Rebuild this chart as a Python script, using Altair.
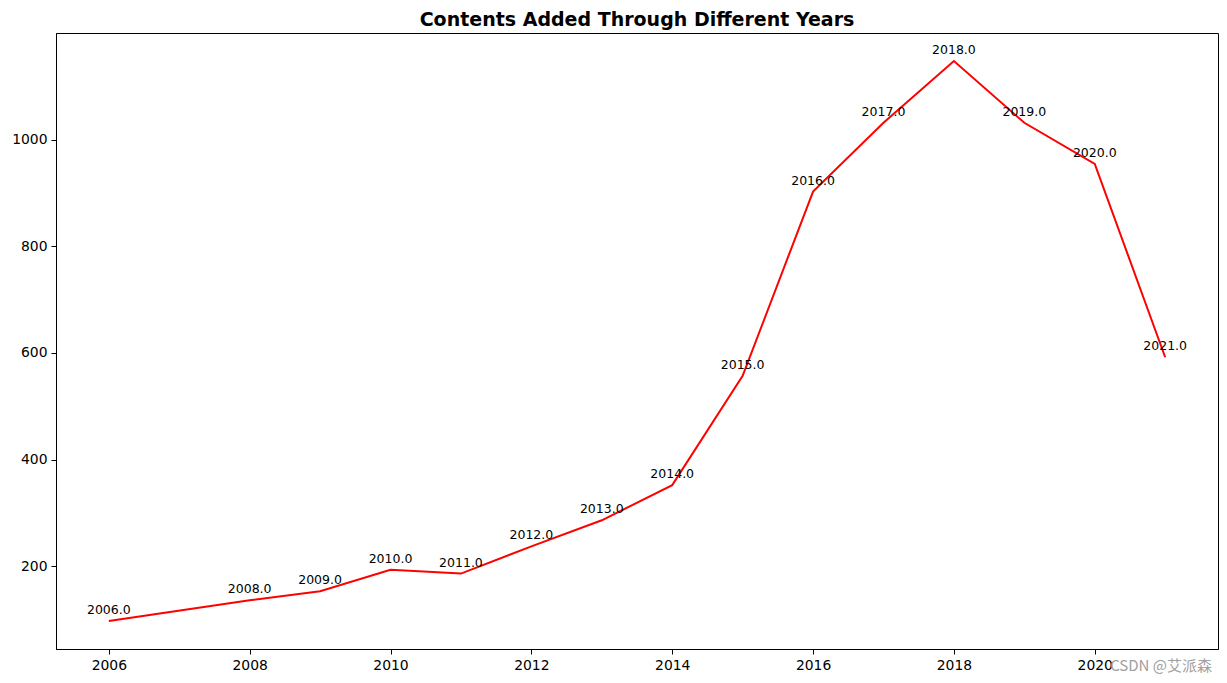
import altair as alt
import pandas as pd

years = [2006, 2008, 2009, 2010, 2011, 2012, 2013, 2014, 2015, 2016, 2017, 2018, 2019, 2020, 2021]
counts = [97, 136, 153, 193, 186, 237, 286, 352, 557, 903, 1032, 1148, 1032, 955, 592]
labels = [f"{float(y):.1f}" for y in years]

x_ticks = [2006, 2008, 2010, 2012, 2014, 2016, 2018, 2020]
y_ticks = [200, 400, 600, 800, 1000]

df = pd.DataFrame({"year": years, "count": counts, "label": labels})

rng = max(counts) - min(counts)
y_dom = [min(counts) - 0.05 * rng, max(counts) + 0.05 * rng]
xr = max(years) - min(years)
x_dom = [min(years) - 0.05 * xr, max(years) + 0.05 * xr]

FONT = "DejaVu Sans"

x_enc = alt.X("year:Q", scale=alt.Scale(domain=x_dom, nice=False, zero=False),
              axis=alt.Axis(values=x_ticks, format="d", title=None))
y_enc = alt.Y("count:Q", scale=alt.Scale(domain=y_dom, nice=False, zero=False),
              axis=alt.Axis(values=y_ticks, format="d", title=None))

line = alt.Chart(df).mark_line(color="red", strokeWidth=2).encode(x=x_enc, y=y_enc)

text = alt.Chart(df).mark_text(fontSize=12.5, font=FONT, color="black", dy=-11,
                               baseline="middle", align="center").encode(
    x="year:Q", y="count:Q", text="label:N")

wm = alt.Chart(pd.DataFrame({"t": ["CSDN @艾派森"]})).mark_text(
    font="Noto Sans CJK SC", fontSize=15, color="#a0a0a0", align="right", baseline="middle"
).encode(x=alt.value(1156), y=alt.value(633), text="t:N")

chart = alt.layer(line, text, wm).properties(
    width=1162, height=616,
    title=alt.TitleParams("Contents Added Through Different Years", fontSize=19,
                          font=FONT, fontWeight="bold", color="black", offset=3),
    autosize=alt.AutoSizeParams(type="none"),
    padding={"left": 48, "top": 25, "right": 1, "bottom": 26},
).configure_view(stroke="black", strokeWidth=1).configure_axis(
    grid=False, domainColor="black", tickColor="black", labelColor="black",
    labelFont=FONT, labelFontSize=13.9, tickSize=5, labelPadding=4, domainWidth=1
)

chart.save("out.html", embed_options={"renderer": "svg", "actions": False})
